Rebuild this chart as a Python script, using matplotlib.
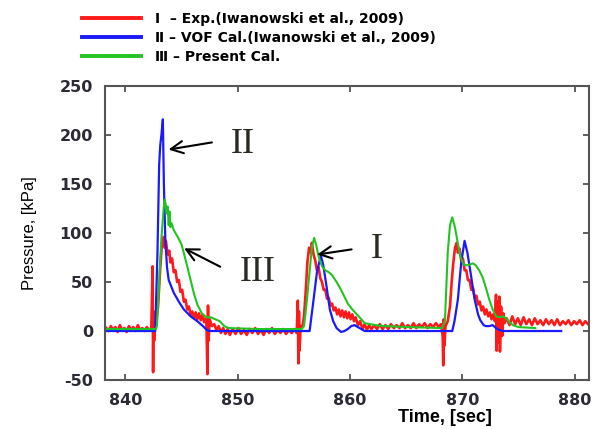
import matplotlib.pyplot as plt

plt.rcParams['axes.unicode_minus'] = False

# Datos: tiempo [s] y presión [kPa]
# I - Experimento (Iwanowski et al., 2009)
exp_t = [838.3, 838.5, 838.7, 838.9, 839.1, 839.3, 839.5, 839.7, 839.9, 840.1, 840.3, 840.5,
         840.7, 840.9, 841.1, 841.3, 841.5, 841.7, 841.9, 842.1, 842.3,
         842.42, 842.46, 842.5, 842.55, 842.6, 842.7,
         842.9, 843.1, 843.25, 843.4, 843.5, 843.6, 843.75, 843.9, 844.0, 844.15, 844.3, 844.45,
         844.6, 844.75, 844.9, 845.05, 845.2, 845.35, 845.5, 845.65, 845.8, 845.95, 846.1,
         846.25, 846.4, 846.55, 846.7, 846.85, 847.0, 847.2, 847.3, 847.35, 847.4, 847.5,
         847.7, 847.9, 848.1, 848.3, 848.5, 848.7, 848.9, 849.1,
         849.3, 849.55, 849.8, 850.05, 850.3, 850.55, 850.8, 851.05, 851.3, 851.55, 851.8,
         852.05, 852.3, 852.55, 852.8, 853.05, 853.3, 853.55, 853.8, 854.05, 854.3, 854.55,
         854.8, 855.05, 855.25,
         855.35, 855.4, 855.45, 855.5, 855.6, 855.75,
         855.9, 856.05, 856.2, 856.35, 856.5, 856.6, 856.75, 856.9, 857.05, 857.2, 857.35,
         857.5, 857.65, 857.8, 857.95, 858.1, 858.25, 858.4, 858.55, 858.7, 858.85, 859.0,
         859.15, 859.3, 859.45, 859.6, 859.75, 859.9, 860.05, 860.2, 860.35, 860.5, 860.7,
         860.9, 861.1, 861.3, 861.5, 861.7,
         861.9, 862.15, 862.4, 862.65, 862.9, 863.15, 863.4, 863.65, 863.9, 864.15, 864.4,
         864.65, 864.9, 865.15, 865.4, 865.65, 865.9, 866.15, 866.4, 866.65, 866.9, 867.15,
         867.4, 867.65, 867.9, 868.1,
         868.25, 868.3, 868.35, 868.4, 868.5,
         868.7, 868.9, 869.05, 869.2, 869.35, 869.5, 869.6, 869.75, 869.9, 870.05, 870.2,
         870.35, 870.5, 870.65, 870.8, 870.95, 871.1, 871.25, 871.4, 871.55, 871.7, 871.85,
         872.0, 872.15, 872.3, 872.45, 872.6, 872.75, 872.9,
         873.0, 873.05, 873.1, 873.2, 873.3, 873.35, 873.45, 873.55, 873.65, 873.75,
         873.95, 874.2, 874.45, 874.7, 874.95, 875.2, 875.45, 875.7, 875.95, 876.2, 876.45,
         876.7, 876.95, 877.2, 877.45, 877.7, 877.95, 878.2, 878.45, 878.7, 878.95, 879.2,
         879.45, 879.7, 879.95, 880.2, 880.45, 880.7, 880.95, 881.2]
exp_p = [3, 0, 5, 1, 4, -1, 6, 1, 3, -1, 5, 1,
         4, 0, 6, 1, 3, 0, 4, 1, 3,
         66, -42, 20, -10, 3, 5,
         25, 65, 90, 96, 85, 92, 78, 82, 70, 74, 60, 62,
         50, 52, 40, 42, 30, 32, 22, 25, 16, 20, 13,
         19, 12, 18, 11, 17, 9, 14, -44, 26, -10, 12,
         5, 7, 1, 5, -2, 3, -3, 2,
         -4, 2, -3, 3, -3, 1, -4, 2, -2, 3, -3,
         1, -4, 2, -2, 3, -3, 1, -2, 2, -3, 1,
         -2, 2, -2,
         31, -33, 20, -20, 5, 4,
         15, 40, 70, 85, 80, 90, 78, 72, 62, 65, 54,
         50, 42, 42, 33, 34, 26, 28, 21, 24, 17, 22,
         15, 21, 14, 20, 13, 19, 12, 17, 10, 14, 6,
         10, 2, 7, 1, 6,
         2, 6, 2, 7, 2, 6, 2, 7, 3, 6, 3,
         8, 3, 6, 3, 8, 3, 7, 4, 8, 3, 7,
         4, 8, 4, 7,
         -5, -35, 12, -15, 5,
         10, 25, 50, 70, 85, 90, 80, 84, 72, 74, 62,
         62, 52, 52, 42, 44, 34, 36, 27, 30, 21, 25,
         17, 22, 15, 19, 12, 17, 10,
         37, -20, 30, -12, 35, -21, 25, -5, 18, 8,
         13, 6, 15, 7, 13, 6, 14, 7, 12, 6, 13,
         7, 11, 6, 12, 7, 11, 6, 12, 6, 10, 7,
         11, 6, 10, 7, 11, 6, 10, 7]

# II - Cálculo VOF (Iwanowski et al., 2009)
vof_t = [838.3, 842.65, 842.85, 843.0, 843.1, 843.2, 843.33, 843.42, 843.55, 843.7, 843.85,
         844.3, 844.8, 845.2, 845.8, 846.4, 846.9, 847.25, 847.5,
         856.4, 856.75, 857.05, 857.4, 857.6, 857.85, 858.2, 858.5, 858.8, 859.2, 859.5,
         859.8, 860.1, 860.4, 860.7, 861.0, 861.3,
         869.1, 869.3, 869.6, 869.9, 870.2, 870.45, 870.7, 871.1, 871.4, 871.6, 871.9,
         872.1, 872.4, 872.7, 873.0, 873.3, 873.6, 878.8]
vof_p = [0, 0, 80, 170, 190, 200, 216, 150, 93, 65, 52,
         39, 29, 22, 15, 10, 5, 1, 0,
         0, 32, 60, 77, 68, 50, 22, 10, 3, -1, 0,
         2, 5, 6, 4, 2, 0,
         0, 10, 32, 70, 92, 80, 62, 32, 17, 11, 6,
         5, 5, 6, 3, 1, 0, 0]

# III - Cálculo presente
pres_t = [838.3, 842.7, 842.8, 843.0, 843.2, 843.4, 843.5, 843.6, 843.7, 843.75, 843.85,
          843.92, 844.0, 844.1, 844.3, 844.7, 845.0, 845.3, 845.5, 845.8, 846.1, 846.4,
          846.8, 847.2, 847.6, 848.0, 848.4, 848.8, 849.2, 852.0,
          855.7, 855.9, 856.1, 856.35, 856.6, 856.8, 857.0, 857.2, 857.5, 857.8, 858.1,
          858.4, 858.8, 859.1, 859.5, 859.8, 860.2, 860.6, 861.0, 861.3, 861.8, 862.3,
          863.0, 865.3, 868.2,
          868.45, 868.7, 868.9, 869.1, 869.3, 869.5, 869.8, 870.1, 870.4, 870.7, 870.95,
          871.2, 871.5, 871.8, 872.1, 872.4, 872.7, 873.0, 873.3, 873.6, 873.9, 874.2,
          874.5, 875.0, 876.5]
pres_p = [2, 2, 5, 50, 95, 125, 134, 128, 120, 127, 108,
          122, 106, 110, 103, 95, 88, 75, 66, 52, 38, 27,
          18, 14, 14, 12, 10, 5, 3, 2,
          2, 5, 25, 55, 85, 95, 87, 76, 66, 62, 60,
          57, 50, 44, 35, 28, 22, 17, 12, 8, 7, 6,
          5, 4, 3,
          10, 80, 108, 116, 108, 96, 77, 68, 67, 68, 69,
          67, 62, 55, 44, 32, 22, 15, 14, 15, 13, 9,
          6, 4, 3]

etiquetas = ['Ⅰ  – Exp.(Iwanowski et al., 2009)',
             'Ⅱ – VOF Cal.(Iwanowski et al., 2009)',
             'Ⅲ – Present Cal.']
colores = ['#ff1a1a', '#1a1aff', '#22c422']

fig = plt.figure(figsize=(6.08, 4.29), dpi=100)
ax = fig.add_axes([0.1735, 0.1142, 0.7945, 0.6853])

l1, = ax.plot(exp_t, exp_p, color=colores[0], linewidth=1.9)
l2, = ax.plot(vof_t, vof_p, color=colores[1], linewidth=1.6)
l3, = ax.plot(pres_t, pres_p, color=colores[2], linewidth=1.5)

ax.set_xlim(838.22, 881.24)
ax.set_ylim(-50, 250)
ax.set_xticks([840, 850, 860, 870, 880])
ax.set_yticks([-50, 0, 50, 100, 150, 200, 250])

ax.tick_params(direction='in', length=4, width=1.2, color='#444444',
               top=True, right=True, pad=9, labelsize=11.5, labelcolor='#2b2b35')
for lab in ax.get_xticklabels() + ax.get_yticklabels():
    lab.set_fontweight('bold')
for sp in ax.spines.values():
    sp.set_color('#555555')
    sp.set_linewidth(1.5)

ax.set_ylabel('Pressure, [kPa]', fontsize=12, family='Liberation Sans', labelpad=16)
ax.set_xlabel('Time, [sec]', fontsize=13, family='Liberation Sans', fontweight='bold',
              x=0.80, ha='right', labelpad=1)

# Flechas y números romanos
ax.annotate('', xy=(843.59, 184.7), xytext=(847.94, 192.9),
            arrowprops=dict(arrowstyle='->', lw=1.5, color='black', mutation_scale=22))
ax.annotate('', xy=(845.0, 85.7), xytext=(848.66, 64.3),
            arrowprops=dict(arrowstyle='->', lw=1.5, color='black', mutation_scale=22))
ax.annotate('', xy=(856.83, 77.6), xytext=(860.38, 83.7),
            arrowprops=dict(arrowstyle='->', lw=1.5, color='black', mutation_scale=22))
ax.text(850.43, 190, 'II', family='Liberation Serif', fontsize=26, color='#2a2a22',
        ha='center', va='center')
ax.text(851.76, 60.2, 'III', family='Liberation Serif', fontsize=26, color='#2a2a22',
        ha='center', va='center')
ax.text(862.42, 82.7, 'I', family='Liberation Serif', fontsize=26, color='#2a2a22',
        ha='center', va='center')

# Leyenda arriba, fuera del gráfico
leg = ax.legend([l1, l2, l3], etiquetas, loc='upper left', bbox_to_anchor=(0.123, 0.988),
                bbox_transform=fig.transFigure, frameon=False, borderpad=0,
                handlelength=4.3, handletextpad=1.0, labelspacing=0.36,
                prop={'family': ['DejaVu Sans', 'Noto Sans CJK KR'], 'weight': 'bold', 'size': 10})
for linea in leg.get_lines():
    linea.set_linewidth(2.8)

fig.savefig('out.png', dpi=100)
